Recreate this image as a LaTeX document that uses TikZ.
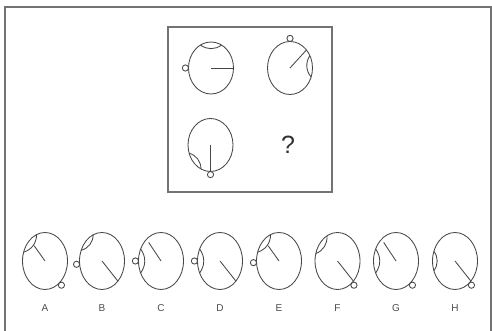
\documentclass[tikz,border=0pt]{standalone}
\usepackage{fontspec}
\setmainfont{Liberation Sans}
\begin{document}
\begin{tikzpicture}[x=1pt,y=1pt,
  fig/.style={draw=black!72,line width=0.85pt},
  frame/.style={draw=black!55,line width=1.1pt},
  optlabel/.style={font=\fontsize{10}{10}\selectfont,text=black!70,inner sep=0pt}]
% canvas
\useasboundingbox (0,0) rectangle (492,331);
\fill[white] (0,0) rectangle (492,331);

% ring figure: #1,#2 centre; #3,#4 radii; #5,#6 cap angles;
% #7 spoke angle; #8 spoke length (fraction); #9 knob angle
\newcommand\ringfig[9]{%
  \begin{scope}[shift={(#1,#2)}]
    \pgfmathsetmacro\sprx{#8*#3}\pgfmathsetmacro\spry{#8*#4}%
    \pgfmathsetmacro\knx{#3+3.1}\pgfmathsetmacro\kny{#4+3.1}%
    \draw[fig] (0,0) ellipse [x radius=#3, y radius=#4];
    \draw[fig] (#5:#3 and #4) to[bend left=36] (#6:#3 and #4);
    \draw[fig] (0,0) -- (#7:\sprx\space and \spry);
    \draw[fig,fill=white] (#9:\knx\space and \kny) circle[radius=3.1];
  \end{scope}}

% outer frame (open at the bottom)
\draw[frame] (5,0) -- (5,324) -- (491,324) -- (491,0);
% question panel
\draw[frame] (168,139) rectangle (332,304);

% question figures
\ringfig{211}{263}{22.5}{26}{62}{118}{0}{1}{180}
\ringfig{290}{263}{22.5}{26.5}{-20}{28}{43}{1}{90}
\ringfig{210.5}{186}{22.5}{26.5}{198}{245}{270}{1}{270}
\node[font=\fontsize{25}{25}\selectfont,text=black!80] (q) at (288,186) {?};

% answer options
\ringfig{45}{70}{22.5}{28.5}{112}{162}{132}{0.72}{-50}
\ringfig{102}{70}{22.5}{28.5}{113}{158}{-45}{1}{186}
\ringfig{161}{70}{22.5}{28.5}{155}{205}{130}{0.85}{180}
\ringfig{220}{70}{22.5}{28.5}{155}{205}{-45}{1}{180}
\ringfig{279}{70}{22.5}{28.5}{112}{162}{132}{0.72}{183}
\ringfig{337.5}{70}{22.5}{28.5}{118}{165}{-45}{1}{-50}
\ringfig{396}{70}{22.5}{28.5}{155}{205}{130}{0.85}{-50}
\ringfig{455}{70}{22.5}{28.5}{160}{200}{-45}{1}{-50}

\node[optlabel] (la) at (45,23) {A};
\node[optlabel] (lb) at (102,23) {B};
\node[optlabel] (lc) at (161,23) {C};
\node[optlabel] (ld) at (220,23) {D};
\node[optlabel] (le) at (279,23) {E};
\node[optlabel] (lf) at (337.5,23) {F};
\node[optlabel] (lg) at (396,23) {G};
\node[optlabel] (lh) at (455,23) {H};
\end{tikzpicture}
\end{document}
